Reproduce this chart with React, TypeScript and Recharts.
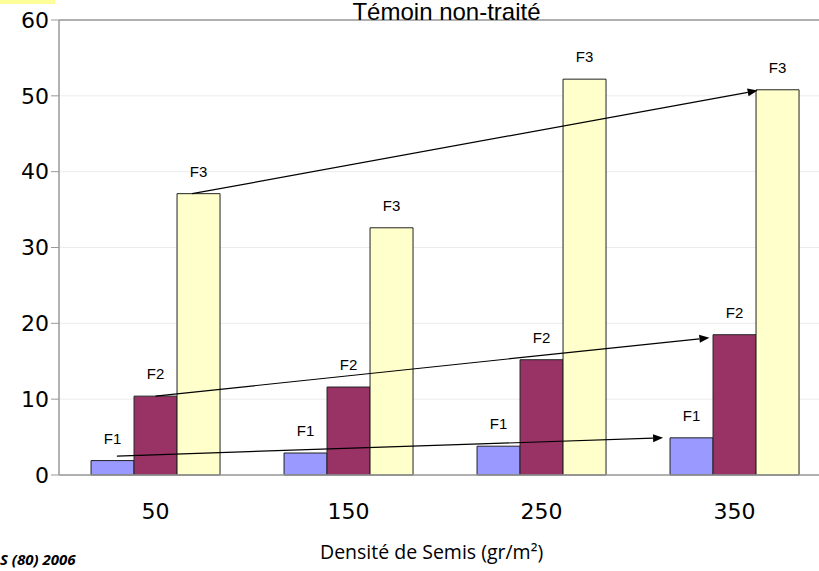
import React from 'react';
import {
  BarChart,
  Bar,
  XAxis,
  YAxis,
  CartesianGrid,
  LabelList,
  ReferenceLine,
} from 'recharts';

const densities = ['50', '150', '250', '350'];
const f1Values = [1.9, 2.9, 3.8, 4.9];
const f2Values = [10.4, 11.6, 15.2, 18.5];
const f3Values = [37.1, 32.6, 52.2, 50.8];
const yTicks = [0, 10, 20, 30, 40, 50, 60];

// trend arrows, x in band units (0..4), y in data units
const trendF1 = [{ x: 0.3, y: 2.5 }, { x: 3.13, y: 4.9 }];
const trendF2 = [{ x: 0.5, y: 10.4 }, { x: 3.37, y: 18.1 }];
const trendF3 = [{ x: 0.69, y: 37.1 }, { x: 3.62, y: 50.7 }];

const data = densities.map((d, i) => ({
  density: d,
  pos: i + 0.5,
  f1: f1Values[i],
  f2: f2Values[i],
  f3: f3Values[i],
}));

function Arrow(props: any) {
  const { x1, y1, x2, y2 } = props;
  const a = Math.atan2(y2 - y1, x2 - x1);
  const len = 10;
  const hw = 4;
  const bx = x2 - len * Math.cos(a);
  const by = y2 - len * Math.sin(a);
  const px = -Math.sin(a) * hw;
  const py = Math.cos(a) * hw;
  return (
    <g>
      <line x1={x1} y1={y1} x2={bx} y2={by} stroke="#000" strokeWidth={1.2} />
      <polygon points={`${x2},${y2} ${bx + px},${by + py} ${bx - px},${by - py}`} fill="#000" />
    </g>
  );
}

function barLabel(text: string) {
  return (p: any) => (
    <text
      x={p.x + p.width / 2}
      y={p.y - 17}
      textAnchor="middle"
      style={{ fontSize: 15, fontFamily: '"Liberation Sans", Arial, sans-serif', fill: '#000' }}
    >
      {text}
    </text>
  );
}

export default function App() {
  return (
    <div style={{ position: 'absolute', left: 0, top: 0, width: 819, height: 571, overflow: 'hidden', background: '#fff' }}>
      <div style={{ position: 'absolute', left: 0, top: 0, width: 55, height: 4, background: '#ffff99' }} />
      <BarChart
        width={850}
        height={571}
        data={data}
        margin={{ top: 20, right: 19, left: 0, bottom: 0 }}
        barCategoryGap="16.6%"
        barGap={0}
      >
        <CartesianGrid vertical={false} stroke="#ececec" />
        <XAxis
          xAxisId="num"
          dataKey="pos"
          type="number"
          scale="linear"
          domain={[0, 4]}
          ticks={[0, 1, 2, 3, 4]}
          allowDataOverflow
          padding={{ left: 0, right: 0 }}
          height={0}
          axisLine={false}
          tick={{ fontSize: 1, fill: 'none' }}
          tickFormatter={() => ''}
          tickLine={{ stroke: '#bbb' }}
          tickSize={9}
        />
        <XAxis
          dataKey="density"
          height={96}
          axisLine={{ stroke: '#999', strokeWidth: 1.5 }}
          tickLine={false}
          tickSize={0}
          tickMargin={28}
          tick={{ fontSize: 22, fill: '#000', fontFamily: '"DejaVu Sans", Verdana, sans-serif' }}
        />
        <YAxis
          width={59}
          domain={[0, 60]}
          ticks={yTicks}
          axisLine={{ stroke: '#999', strokeWidth: 1.5 }}
          tickLine={{ stroke: '#999' }}
          tickSize={8}
          tickMargin={2}
          tick={{ fontSize: 22, fill: '#000', fontFamily: '"DejaVu Sans", Verdana, sans-serif' }}
        />
        <ReferenceLine y={60} stroke="#999" strokeWidth={1.5} />
        <Bar dataKey="f1" fill="#9999ff" stroke="#222" strokeWidth={1} isAnimationActive={false}>
          <LabelList dataKey="f1" content={barLabel('F1')} />
        </Bar>
        <Bar dataKey="f2" fill="#993366" stroke="#222" strokeWidth={1} isAnimationActive={false}>
          <LabelList dataKey="f2" content={barLabel('F2')} />
        </Bar>
        <Bar dataKey="f3" fill="#ffffcc" stroke="#222" strokeWidth={1} isAnimationActive={false}>
          <LabelList dataKey="f3" content={barLabel('F3')} />
        </Bar>
        <ReferenceLine xAxisId="num" segment={trendF1} ifOverflow="visible" shape={Arrow} />
        <ReferenceLine xAxisId="num" segment={trendF2} ifOverflow="visible" shape={Arrow} />
        <ReferenceLine xAxisId="num" segment={trendF3} ifOverflow="visible" shape={Arrow} />
      </BarChart>
      <div
        style={{
          position: 'absolute',
          left: 0,
          width: 893,
          top: -1,
          textAlign: 'center',
          fontSize: 24,
          lineHeight: '26px',
          fontFamily: '"Liberation Sans", Arial, sans-serif',
          color: '#000',
        }}
      >
        Témoin non-traité
      </div>
      <div
        style={{
          position: 'absolute',
          left: 320,
          top: 538,
          fontSize: 19.5,
          fontFamily: '"Open Sans", sans-serif',
          color: '#000',
          whiteSpace: 'nowrap',
        }}
      >
        Densité de Semis (gr/m²)
      </div>
      <div
        style={{
          position: 'absolute',
          left: 0,
          top: 549,
          fontSize: 15,
          lineHeight: '20px',
          fontWeight: 700,
          fontStyle: 'italic',
          fontFamily: '"Open Sans", sans-serif',
          color: '#000',
          whiteSpace: 'nowrap',
        }}
      >
        S (80) 2006
      </div>
    </div>
  );
}
